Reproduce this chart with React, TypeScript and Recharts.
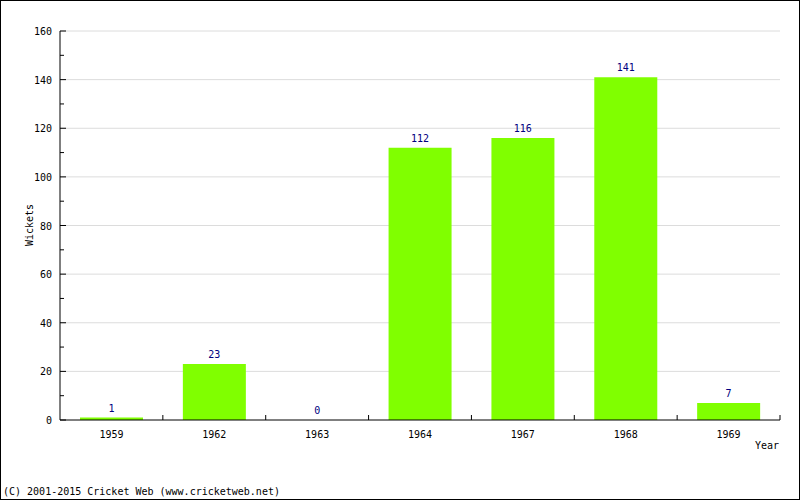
import React from 'react';
import { ComposedChart, Bar, Line, XAxis, YAxis, CartesianGrid, LabelList, Customized } from 'recharts';

const years = ['1959', '1962', '1963', '1964', '1967', '1968', '1969'];
const wickets = [1, 23, 0, 112, 116, 141, 7];
const yTicks = [0, 10, 20, 30, 40, 50, 60, 70, 80, 90, 100, 110, 120, 130, 140, 150, 160];
const gridValues = [20, 40, 60, 80, 100, 120, 140, 160];

const data = years.map((y, i) => ({ year: y, wickets: wickets[i] }));

const FONT = '"DejaVu Sans Mono", monospace';

const YTick = (props: any) => {
  const { x, y, payload } = props;
  const major = payload.value % 20 === 0;
  return (
    <g>
      <line x1={x} y1={y} x2={x + (major ? 6 : 4)} y2={y} stroke="#000" strokeWidth={1} />
      {major && (
        <text x={x - 8} y={y} dy={4} textAnchor="end" fontFamily={FONT} fontSize={10} fill="#000">
          {payload.value}
        </text>
      )}
    </g>
  );
};

const XTick = (props: any) => {
  const { x, y, payload } = props;
  const half = payload.offset || 720 / 7 / 2;
  return (
    <g>
      <line x1={x + half} y1={y} x2={x + half} y2={y - 5} stroke="#000" strokeWidth={1} />
      <text x={x} y={y + 18} textAnchor="middle" fontFamily={FONT} fontSize={10} fill="#000">
        {payload.value}
      </text>
    </g>
  );
};

const Extras = () => (
  <g>
    <text x={30} y={225} transform="rotate(-90 30 225)" textAnchor="middle" dy={3} fontFamily={FONT} fontSize={10} fill="#000">
      Wickets
    </text>
    <text x={779} y={449} textAnchor="end" fontFamily={FONT} fontSize={10} fill="#000">
      Year
    </text>
    <text x={3} y={495} fontFamily={FONT} fontSize={10} fill="#000">
      (C) 2001-2015 Cricket Web (www.cricketweb.net)
    </text>
  </g>
);

export default function App() {
  return (
    <div style={{ position: 'absolute', left: 0, top: 0, width: 800, height: 500, background: '#fff' }}>
      <ComposedChart
        width={800}
        height={500}
        data={data}
        margin={{ top: 31, right: 20, bottom: 50, left: 0 }}
        barCategoryGap={20}
      >
        <CartesianGrid vertical={false} horizontalValues={gridValues} stroke="#dcdcdc" strokeWidth={1} />
        <XAxis
          dataKey="year"
          height={30}
          tickLine={false}
          tickSize={0}
          tickMargin={0}
          axisLine={{ stroke: '#000', strokeWidth: 1 }}
          tick={<XTick />}
          interval={0}
        />
        <YAxis
          width={60}
          domain={[0, 160]}
          ticks={yTicks}
          interval={0}
          tickLine={false}
          tickSize={0}
          tickMargin={0}
          axisLine={{ stroke: '#000', strokeWidth: 1 }}
          tick={<YTick />}
        />
        <Bar dataKey="wickets" fill="#80ff00" isAnimationActive={false} />
        <Line
          dataKey="wickets"
          stroke="none"
          dot={false}
          activeDot={false}
          isAnimationActive={false}
          legendType="none"
        >
          <LabelList dataKey="wickets" position="top" offset={6} fill="#000080" fontFamily={FONT} fontSize={10} />
        </Line>
        <Customized component={Extras} />
      </ComposedChart>
      <div
        style={{
          position: 'absolute',
          left: 0,
          top: 0,
          width: 800,
          height: 500,
          border: '1px solid #000',
          boxSizing: 'border-box',
          pointerEvents: 'none',
        }}
      />
    </div>
  );
}
